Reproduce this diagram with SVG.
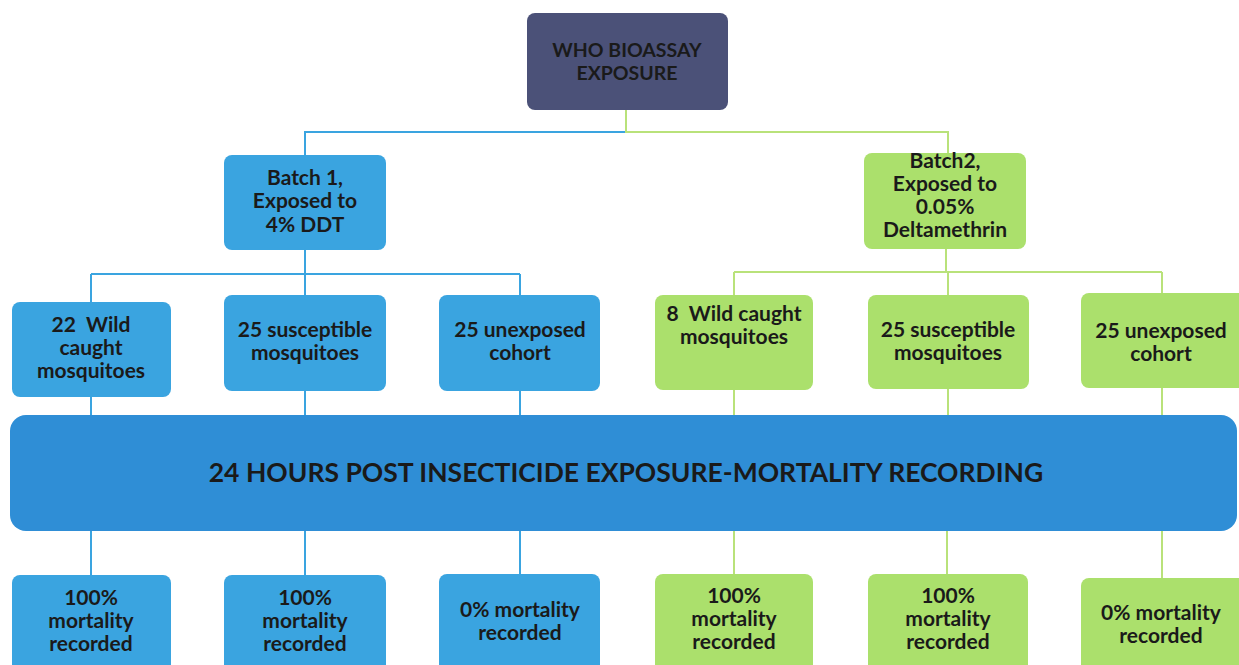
<svg xmlns="http://www.w3.org/2000/svg" width="1239" height="665" viewBox="0 0 1239 665">
<style>
.t{font-family:Lato,"Liberation Sans",sans-serif;font-weight:bold;fill:#1a1a1a;text-anchor:middle;font-size:21px}
.h{font-size:19.5px}
.big{font-size:26.5px}
.blue{fill:#3aa4e0}
.green{fill:#abe06c}
.top{fill:#4b5178}
.bar{fill:#2f8ed6}
.cb{stroke:#3aa4e0;stroke-width:2;fill:none}
.cg{stroke:#b9e27a;stroke-width:2;fill:none}
</style>
<rect width="1239" height="665" fill="#ffffff"/>
<g id="connectors">
<path class="cb" d="M626 132 H305 V155"/>
<path class="cg" d="M626 110 V132 H948 V153"/>
<path class="cb" d="M305 250 V274 M91 274 H520 M91 274 V302 M305 274 V295 M520 274 V295"/>
<path class="cg" d="M946 249 V272 M734 272 H1162 M734 272 V295 M948 272 V295 M1162 272 V293"/>
<path class="cb" d="M91 397 V415 M305 391 V415 M520 391 V415"/>
<path class="cg" d="M734 390 V415 M948 389 V415 M1162 388 V415"/>
<path class="cb" d="M91 531 V575 M305 531 V575 M520 531 V574"/>
<path class="cg" d="M734 531 V574 M947 531 V574 M1162 531 V578"/>
</g>
<g id="n-top">
<rect class="top" x="527" y="13" width="201" height="97" rx="8"/>
<text class="t h" x="627" y="57">WHO BIOASSAY</text>
<text class="t h" x="627" y="80">EXPOSURE</text>
</g>
<g id="n-batch1">
<rect class="blue" x="224" y="155" width="162" height="95" rx="8"/>
<text class="t" x="305" y="185">Batch 1,</text>
<text class="t" x="305" y="208">Exposed to</text>
<text class="t" x="305" y="232">4% DDT</text>
</g>
<g id="n-batch2">
<rect class="green" x="864" y="153" width="162" height="96" rx="8"/>
<text class="t" x="945" y="168">Batch2,</text>
<text class="t" x="945" y="191">Exposed to</text>
<text class="t" x="945" y="214">0.05%</text>
<text class="t" x="945" y="237">Deltamethrin</text>
</g>
<g id="n-b1">
<rect class="blue" x="12" y="302" width="159" height="95" rx="8"/>
<text class="t" x="91" y="332">22&#160; Wild</text>
<text class="t" x="91" y="355">caught</text>
<text class="t" x="91" y="378">mosquitoes</text>
</g>
<g id="n-b2">
<rect class="blue" x="224" y="295" width="162" height="96" rx="8"/>
<text class="t" x="305" y="337">25 susceptible</text>
<text class="t" x="305" y="360">mosquitoes</text>
</g>
<g id="n-b3">
<rect class="blue" x="439" y="295" width="161" height="96" rx="8"/>
<text class="t" x="520" y="337">25 unexposed</text>
<text class="t" x="520" y="360">cohort</text>
</g>
<g id="n-g1">
<rect class="green" x="655" y="295" width="158" height="95" rx="8"/>
<text class="t" x="734" y="321">8&#160; Wild caught</text>
<text class="t" x="734" y="344">mosquitoes</text>
</g>
<g id="n-g2">
<rect class="green" x="868" y="295" width="161" height="94" rx="8"/>
<text class="t" x="948" y="337">25 susceptible</text>
<text class="t" x="948" y="360">mosquitoes</text>
</g>
<g id="n-g3">
<rect class="green" x="1081" y="293" width="166" height="95" rx="8"/>
<text class="t" x="1161" y="338">25 unexposed</text>
<text class="t" x="1161" y="361">cohort</text>
</g>
<g id="n-bar">
<rect class="bar" x="10" y="415" width="1227" height="116" rx="16"/>
<text class="t big" x="626" y="482">24 HOURS POST INSECTICIDE EXPOSURE-MORTALITY RECORDING</text>
</g>
<g id="n-r1">
<rect class="blue" x="12" y="575" width="159" height="110" rx="8"/>
<text class="t" x="91" y="605">100%</text>
<text class="t" x="91" y="628">mortality</text>
<text class="t" x="91" y="651">recorded</text>
</g>
<g id="n-r2">
<rect class="blue" x="224" y="575" width="162" height="110" rx="8"/>
<text class="t" x="305" y="605">100%</text>
<text class="t" x="305" y="628">mortality</text>
<text class="t" x="305" y="651">recorded</text>
</g>
<g id="n-r3">
<rect class="blue" x="439" y="574" width="161" height="110" rx="8"/>
<text class="t" x="520" y="617">0% mortality</text>
<text class="t" x="520" y="640">recorded</text>
</g>
<g id="n-r4">
<rect class="green" x="655" y="574" width="158" height="110" rx="8"/>
<text class="t" x="734" y="603">100%</text>
<text class="t" x="734" y="626">mortality</text>
<text class="t" x="734" y="649">recorded</text>
</g>
<g id="n-r5">
<rect class="green" x="868" y="574" width="160" height="110" rx="8"/>
<text class="t" x="948" y="603">100%</text>
<text class="t" x="948" y="626">mortality</text>
<text class="t" x="948" y="649">recorded</text>
</g>
<g id="n-r6">
<rect class="green" x="1081" y="578" width="166" height="110" rx="8"/>
<text class="t" x="1161" y="620">0% mortality</text>
<text class="t" x="1161" y="643">recorded</text>
</g>
</svg>
